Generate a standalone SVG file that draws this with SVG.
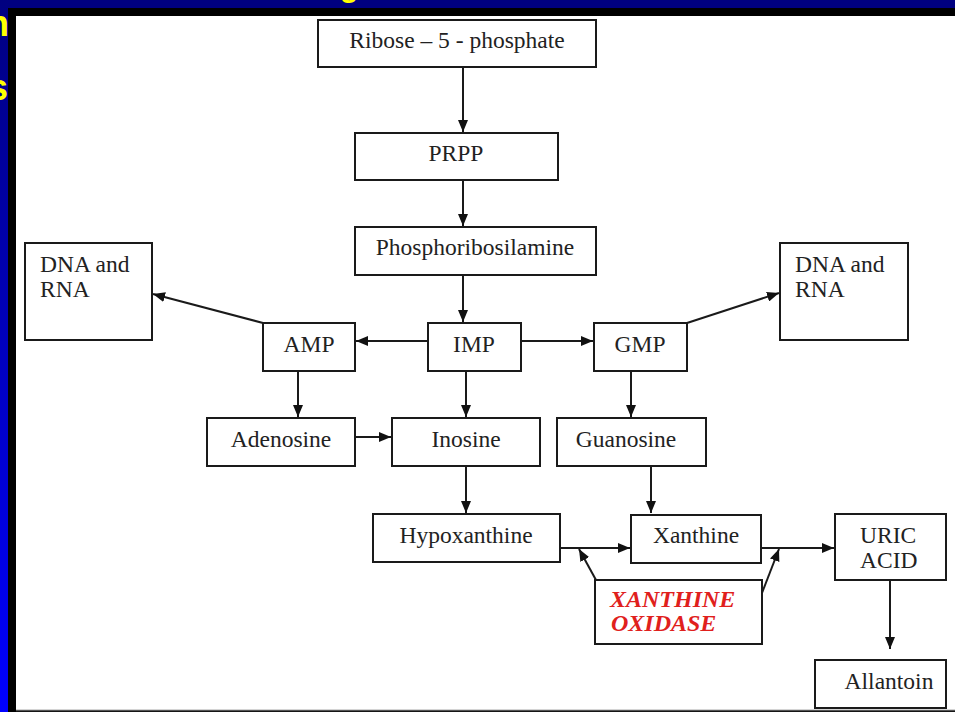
<svg xmlns="http://www.w3.org/2000/svg" width="955" height="712" viewBox="0 0 955 712">
<defs>
<linearGradient id="sideBlue" x1="0" y1="0" x2="0" y2="1">
<stop offset="0" stop-color="#000080"/>
<stop offset="1" stop-color="#0000ff"/>
</linearGradient>
<marker id="ah" viewBox="0 0 12 10" refX="12" refY="5" markerWidth="12" markerHeight="10" markerUnits="userSpaceOnUse" orient="auto">
<path d="M0,0 L12,5 L0,10 z" fill="#111"/>
</marker>
<style>
.box{fill:#fff;stroke:#1a1a1a;stroke-width:2}
.t{font-family:"Liberation Serif","Times New Roman",serif;font-size:23.5px;fill:#222}
.c{text-anchor:middle}
.ln{stroke:#1a1a1a;stroke-width:2;fill:none;marker-end:url(#ah)}
.xo{font-family:"Liberation Serif","Times New Roman",serif;font-size:24px;font-weight:bold;font-style:italic;fill:#e0201c}
.y{font-family:"Liberation Sans",Arial,sans-serif;font-weight:bold;fill:#ffff00}
</style>
</defs>
<rect x="0" y="0" width="955" height="712" fill="#000080"/>
<rect x="0" y="0" width="8" height="712" fill="url(#sideBlue)"/>
<text class="y" x="-13" y="36" font-size="36">n</text>
<text class="y" x="-12" y="100" font-size="36">s</text>
<text class="y" x="340" y="-3" font-size="30">g</text>
<rect x="8" y="8" width="947" height="704" fill="#000"/>
<rect x="16" y="16" width="939" height="694" fill="#fff"/>
<line x1="16" y1="710.5" x2="955" y2="710.5" stroke="#555" stroke-width="1.5"/>

<g id="connectors">
<line class="ln" x1="463" y1="67" x2="463" y2="132"/>
<line class="ln" x1="463" y1="180" x2="463" y2="226"/>
<line class="ln" x1="463" y1="275" x2="463" y2="322"/>
<line class="ln" x1="428" y1="341" x2="356" y2="341"/>
<line class="ln" x1="521" y1="341" x2="593" y2="341"/>
<line class="ln" x1="263" y1="323" x2="153" y2="294"/>
<line class="ln" x1="687" y1="323" x2="779" y2="293"/>
<line class="ln" x1="298" y1="371" x2="298" y2="417"/>
<line class="ln" x1="466" y1="371" x2="466" y2="417"/>
<line class="ln" x1="631" y1="371" x2="631" y2="417"/>
<line class="ln" x1="355" y1="437" x2="391" y2="437"/>
<line class="ln" x1="466" y1="466" x2="466" y2="513"/>
<line class="ln" x1="651" y1="466" x2="651" y2="513"/>
<line class="ln" x1="560" y1="548" x2="630" y2="548"/>
<line class="ln" x1="761" y1="548" x2="834" y2="548"/>
<line class="ln" x1="596" y1="580" x2="579" y2="549"/>
<line class="ln" x1="762" y1="593" x2="779" y2="549"/>
<line class="ln" x1="890" y1="580" x2="890" y2="649"/>
</g>

<g id="ribose"><rect class="box" x="318" y="20" width="278" height="47"/><text class="t c" x="457" y="48">Ribose – 5 - phosphate</text></g>
<g id="prpp"><rect class="box" x="355" y="133" width="203" height="47"/><text class="t c" x="456" y="161">PRPP</text></g>
<g id="phosphoribosilamine"><rect class="box" x="355" y="227" width="241" height="48"/><text class="t c" x="475" y="255">Phosphoribosilamine</text></g>
<g id="dna-left"><rect class="box" x="25" y="243" width="127" height="97"/><text class="t" x="40" y="272">DNA and</text><text class="t" x="40" y="297">RNA</text></g>
<g id="dna-right"><rect class="box" x="780" y="243" width="128" height="97"/><text class="t" x="795" y="272">DNA and</text><text class="t" x="795" y="297">RNA</text></g>
<g id="amp"><rect class="box" x="263" y="323" width="92" height="48"/><text class="t c" x="309" y="352">AMP</text></g>
<g id="imp"><rect class="box" x="428" y="323" width="93" height="48"/><text class="t c" x="474" y="352">IMP</text></g>
<g id="gmp"><rect class="box" x="594" y="323" width="93" height="48"/><text class="t c" x="640" y="352">GMP</text></g>
<g id="adenosine"><rect class="box" x="207" y="418" width="148" height="48"/><text class="t c" x="281" y="447">Adenosine</text></g>
<g id="inosine"><rect class="box" x="392" y="418" width="148" height="48"/><text class="t c" x="466" y="447">Inosine</text></g>
<g id="guanosine"><rect class="box" x="557" y="418" width="149" height="48"/><text class="t c" x="626" y="447">Guanosine</text></g>
<g id="hypoxanthine"><rect class="box" x="373" y="514" width="187" height="48"/><text class="t c" x="466" y="543">Hypoxanthine</text></g>
<g id="xanthine"><rect class="box" x="631" y="515" width="130" height="48"/><text class="t c" x="696" y="543">Xanthine</text></g>
<g id="uric-acid"><rect class="box" x="835" y="514" width="111" height="66"/><text class="t" x="860" y="543">URIC</text><text class="t" x="860" y="568">ACID</text></g>
<g id="xanthine-oxidase"><rect class="box" x="595" y="580" width="167" height="64"/><text class="xo" x="610" y="607">XANTHINE</text><text class="xo" x="611" y="631">OXIDASE</text></g>
<g id="allantoin"><rect class="box" x="815" y="660" width="131" height="48"/><text class="t c" x="889" y="689">Allantoin</text></g>
</svg>
